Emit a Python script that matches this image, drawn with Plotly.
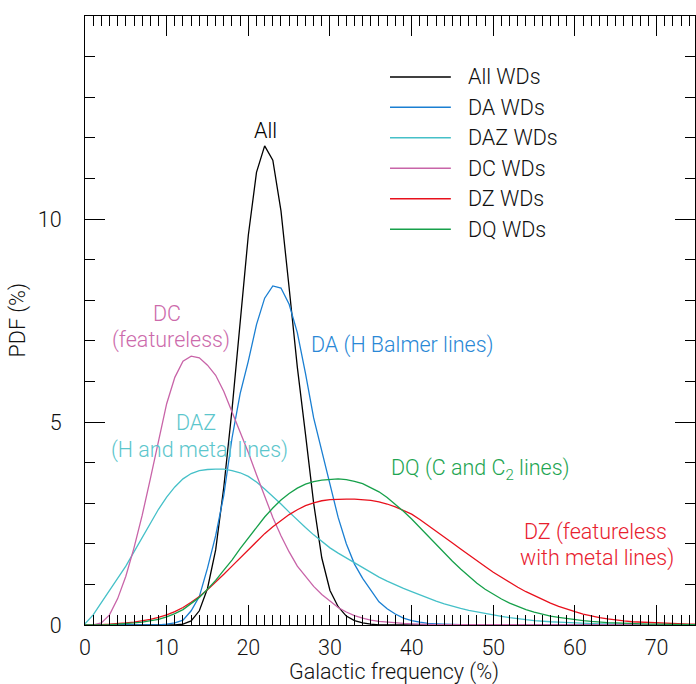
import plotly.graph_objects as go

freq = [0, 1, 2, 3, 4, 5, 6, 7, 8, 9, 10, 11, 12, 13, 14, 15, 16, 17, 18, 19,
        20, 21, 22, 23, 24, 25, 26, 27, 28, 29, 30, 31, 32, 33, 34, 35, 36, 37, 38, 39,
        40, 41, 42, 43, 44, 45, 46, 47, 48, 49, 50, 51, 52, 53, 54, 55, 56, 57, 58, 59,
        60, 61, 62, 63, 64, 65, 66, 67, 68, 69, 70, 71, 72, 73, 74, 75]

pdf_all = [0, 0, 0, 0, 0, 0, 0, 0, 0, 0, 0, 0, 0.02, 0.1, 0.35, 0.9, 1.85, 3.4, 5.3, 7.5,
           9.6, 11.15, 11.8, 11.45, 10.2, 8.3, 6.35, 4.7, 3.0, 1.65, 0.85, 0.45, 0.22, 0.11, 0.05, 0.02, 0, 0, 0, 0,
           0, 0, 0, 0, 0, 0, 0, 0, 0, 0, 0, 0, 0, 0, 0, 0, 0, 0, 0, 0,
           0, 0, 0, 0, 0, 0, 0, 0, 0, 0, 0, 0, 0, 0, 0, 0]

pdf_da = [0, 0, 0, 0, 0, 0, 0, 0, 0, 0, 0.02, 0.05, 0.12, 0.35, 0.7, 1.4, 2.2, 3.2, 4.6, 5.7,
          6.5, 7.4, 8.05, 8.35, 8.3, 7.9, 7.2, 6.2, 5.1, 4.3, 3.5, 2.65, 2.0, 1.5, 1.15, 0.85, 0.57, 0.4, 0.27, 0.17,
          0.11, 0.07, 0.04, 0.03, 0.02, 0.01, 0, 0, 0, 0, 0, 0, 0, 0, 0, 0, 0, 0, 0, 0,
          0, 0, 0, 0, 0, 0, 0, 0, 0, 0, 0, 0, 0, 0, 0, 0]

pdf_daz = [0.03, 0.25, 0.55, 0.85, 1.12, 1.45, 1.8, 2.15, 2.5, 2.85, 3.15, 3.4, 3.6, 3.73, 3.8, 3.83, 3.84, 3.84, 3.8, 3.75,
           3.66, 3.52, 3.35, 3.17, 2.98, 2.78, 2.58, 2.4, 2.22, 2.05, 1.9, 1.77, 1.65, 1.52, 1.4, 1.29, 1.18, 1.08, 0.98, 0.9,
           0.82, 0.74, 0.66, 0.59, 0.52, 0.46, 0.41, 0.36, 0.32, 0.28, 0.24, 0.21, 0.18, 0.15, 0.13, 0.11, 0.09, 0.08, 0.07, 0.06,
           0.05, 0.04, 0.04, 0.03, 0.03, 0.02, 0.02, 0.02, 0.01, 0.01, 0.01, 0.01, 0.01, 0, 0, 0]

pdf_dc = [0, 0, 0.05, 0.25, 0.65, 1.2, 1.9, 2.7, 3.6, 4.55, 5.45, 6.1, 6.5, 6.62, 6.58, 6.4, 6.15, 5.75, 5.25, 4.75,
          4.25, 3.7, 3.2, 2.65, 2.2, 1.8, 1.45, 1.2, 0.95, 0.75, 0.58, 0.43, 0.32, 0.23, 0.17, 0.12, 0.09, 0.07, 0.05, 0.04,
          0.03, 0.02, 0.02, 0.01, 0.01, 0.01, 0, 0, 0, 0, 0, 0, 0, 0, 0, 0, 0, 0, 0, 0,
          0, 0, 0, 0, 0, 0, 0, 0, 0, 0, 0, 0, 0, 0, 0, 0]

pdf_dz = [0, 0, 0.01, 0.02, 0.03, 0.05, 0.07, 0.1, 0.14, 0.19, 0.25, 0.33, 0.43, 0.56, 0.7, 0.87, 1.05, 1.25, 1.45, 1.65,
          1.85, 2.05, 2.25, 2.42, 2.58, 2.72, 2.84, 2.94, 3.01, 3.06, 3.09, 3.1, 3.1, 3.1, 3.09, 3.07, 3.03, 2.98, 2.91, 2.83,
          2.73, 2.6, 2.46, 2.32, 2.17, 2.02, 1.87, 1.72, 1.58, 1.44, 1.3, 1.17, 1.05, 0.93, 0.82, 0.72, 0.63, 0.54, 0.46, 0.39,
          0.33, 0.27, 0.22, 0.18, 0.15, 0.12, 0.1, 0.08, 0.07, 0.06, 0.05, 0.04, 0.03, 0.03, 0.02, 0.02]

pdf_dq = [0, 0, 0, 0.01, 0.02, 0.03, 0.05, 0.07, 0.1, 0.14, 0.2, 0.28, 0.38, 0.52, 0.68, 0.88, 1.1, 1.35, 1.6, 1.88,
          2.15, 2.42, 2.66, 2.88, 3.08, 3.24, 3.37, 3.47, 3.53, 3.57, 3.59, 3.6, 3.58, 3.54, 3.48, 3.39, 3.28, 3.14, 2.98, 2.8,
          2.61, 2.4, 2.19, 1.98, 1.77, 1.57, 1.38, 1.2, 1.03, 0.88, 0.75, 0.64, 0.54, 0.45, 0.38, 0.32, 0.27, 0.22, 0.19, 0.16,
          0.13, 0.11, 0.09, 0.07, 0.06, 0.05, 0.04, 0.03, 0.03, 0.02, 0.02, 0.02, 0.01, 0.01, 0.01, 0.01]

series_names = ["All WDs", "DA WDs", "DAZ WDs", "DC WDs", "DZ WDs", "DQ WDs"]
series_values = [pdf_all, pdf_da, pdf_daz, pdf_dc, pdf_dz, pdf_dq]
line_colors = ["#000000", "#1a7fd2", "#45c0c8", "#c864a8", "#e8101c", "#16a04a"]

x_ticks = [0, 10, 20, 30, 40, 50, 60, 70]
y_ticks = [0, 5, 10]

FONT = "Roboto"
FS = 21.5

fig = go.Figure()
for name, vals, col in zip(series_names, series_values, line_colors):
    fig.add_trace(go.Scatter(x=freq, y=vals, mode="lines", name=name,
                             line=dict(color=col, width=1.3), showlegend=False))

# manual legend (longer sample lines like the original)
leg_rows = [13.5, 12.75, 12.0, 11.25, 10.5, 9.75]
for name, col, yy in zip(series_names, line_colors, leg_rows):
    fig.add_shape(type="line", xref="x", yref="y", x0=37.35, x1=44.8, y0=yy, y1=yy,
                  line=dict(color=col, width=1.5))
    fig.add_annotation(x=46.6, y=yy, xref="x", yref="y", text=name, showarrow=False,
                       xanchor="left", yanchor="middle",
                       font=dict(family=FONT, size=FS, color="#111111", weight=300))

labels = [
    ("All", 22.1, 12.18, "#000000"),
    ("DC", 9.98, 7.67, "#cc6aab"),
    ("(featureless)", 10.5, 7.03, "#cc6aab"),
    ("DA (H Balmer lines)", 38.9, 6.9, "#2a88d6"),
    ("DAZ", 13.65, 4.98, "#5cc6cc"),
    ("(H and metal lines)", 13.97, 4.3, "#5cc6cc"),
    ("DQ (C and C<sub>2</sub> lines)", 48.47, 3.82, "#1ea552"),
    ("DZ (featureless", 62.56, 2.3, "#e8202e"),
    ("with metal lines)", 62.7, 1.66, "#e8202e"),
]
for txt, lx, ly, col in labels:
    fig.add_annotation(x=lx, y=ly, xref="x", yref="y", text=txt, showarrow=False,
                       xanchor="center", yanchor="middle",
                       font=dict(family=FONT, size=FS, color=col, weight=300))

fig.add_annotation(x=0.506, y=-0.0775, xref="paper", yref="paper", text="Galactic frequency (%)",
                   showarrow=False, xanchor="center", yanchor="middle",
                   font=dict(family=FONT, size=FS, color="#111111", weight=300))
fig.add_annotation(x=-0.11, y=0.5, xref="paper", yref="paper", text="PDF (%)", textangle=-90,
                   showarrow=False, xanchor="center", yanchor="middle",
                   font=dict(family=FONT, size=FS, color="#111111", weight=300))

axis_common = dict(showgrid=False, zeroline=False, showline=True, linecolor="#000000", linewidth=1,
                   mirror="allticks", ticks="inside", tickcolor="#000000", tickwidth=1, ticklen=20,
                   automargin=False, tickmode="array",
                   tickfont=dict(family=FONT, size=FS, color="#111111", weight=300))

fig.update_xaxes(range=[0, 74.7], tickvals=x_ticks, ticklabelstandoff=3,
                 minor=dict(ticks="inside", ticklen=10, dtick=1, tick0=0, tickcolor="#000000", tickwidth=1),
                 **axis_common)
fig.update_yaxes(range=[0, 15], tickvals=y_ticks, ticklabelstandoff=18,
                 minor=dict(ticks="inside", ticklen=10, dtick=1, tick0=0, tickcolor="#000000", tickwidth=1),
                 **axis_common)

fig.update_layout(width=696, height=684, margin=dict(l=85, r=1, t=16, b=59),
                  paper_bgcolor="white", plot_bgcolor="white", showlegend=False,
                  font=dict(family=FONT, size=FS, color="#111111"))

fig.write_html("out.html", config={"displayModeBar": False},
               post_script="document.body.style.margin='0';document.body.style.overflow='hidden';")
